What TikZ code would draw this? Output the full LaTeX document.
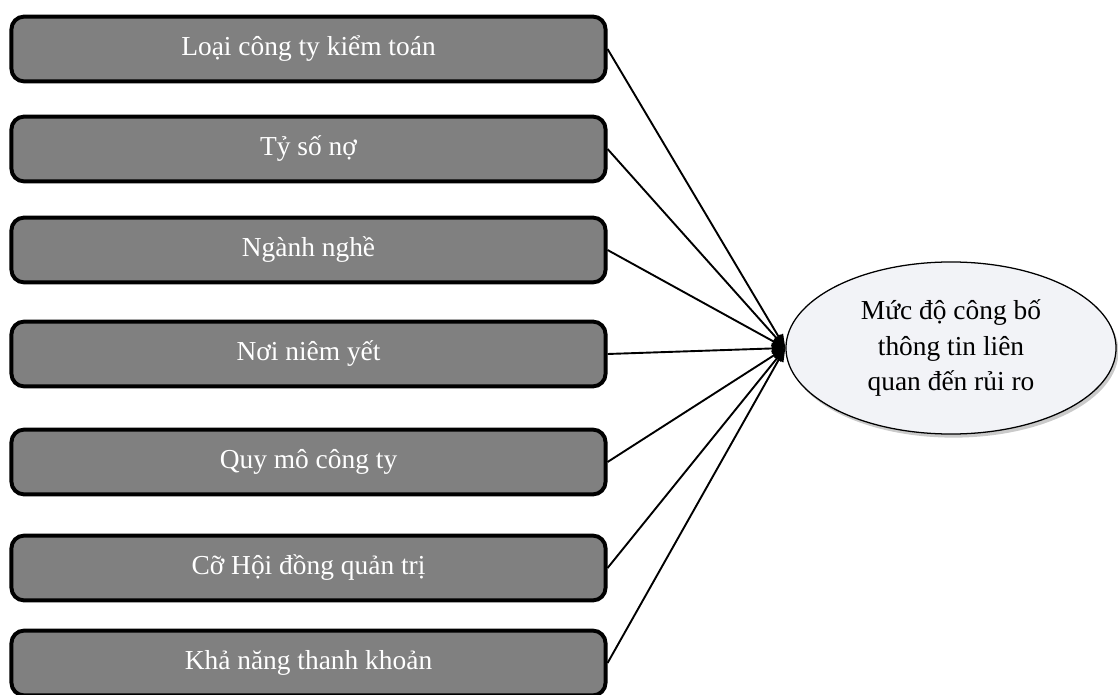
\documentclass[tikz,border=0pt]{standalone}
\usepackage{fontspec}
\setmainfont{Liberation Serif}
\usetikzlibrary{shapes.geometric,arrows.meta,shadows}

\definecolor{hopxam}{HTML}{808080}
\definecolor{nenelip}{HTML}{F2F3F7}

\tikzset{
  hop/.style={draw=black, line width=2.8pt, rounded corners=9pt, fill=hopxam,
    text=white, minimum width=14.85cm, minimum height=1.62cm,
    font=\fontsize{19.5}{25}\selectfont},
  ketqua/.style={ellipse, draw=black, line width=0.9pt, fill=nenelip,
    minimum width=8.25cm, minimum height=4.3cm, align=center,
    font=\fontsize{19.5}{25}\selectfont,
    drop shadow={shadow xshift=0.06cm, shadow yshift=-0.09cm, fill=black!35, opacity=0.6}},
  muiten/.style={line width=1.35pt, -{Triangle[length=0.34cm, width=0.26cm]}}
}

\begin{document}
\begin{tikzpicture}[x=0.025cm, y=-0.025cm]

    \useasboundingbox (0,0) rectangle (1118,695);

    % Các nhân tố
    \node[hop] (loaict) at (308.5,49) {Loại công ty kiểm toán};
    \node[hop] (tysono) at (308.5,149) {Tỷ số nợ};
    \node[hop] (nganh)  at (308.5,250) {Ngành nghề};
    \node[hop] (niemyet) at (308.5,354) {Nơi niêm yết};
    \node[hop] (quymo)  at (308.5,462) {Quy mô công ty};
    \node[hop] (hdqt)   at (308.5,568) {Cỡ Hội đồng quản trị};
    \node[hop] (thanhkhoan) at (308.5,663) {Khả năng thanh khoản};

    % Biến phụ thuộc
    \node[ketqua] (mucdo) at (951,348) {Mức độ công bố\\thông tin liên\\quan đến rủi ro};

    % Mũi tên
    \foreach \n in {loaict,tysono,nganh,niemyet,quymo,hdqt,thanhkhoan}
      \draw[muiten] (\n.east) -- (mucdo.west);

\end{tikzpicture}
\end{document}
